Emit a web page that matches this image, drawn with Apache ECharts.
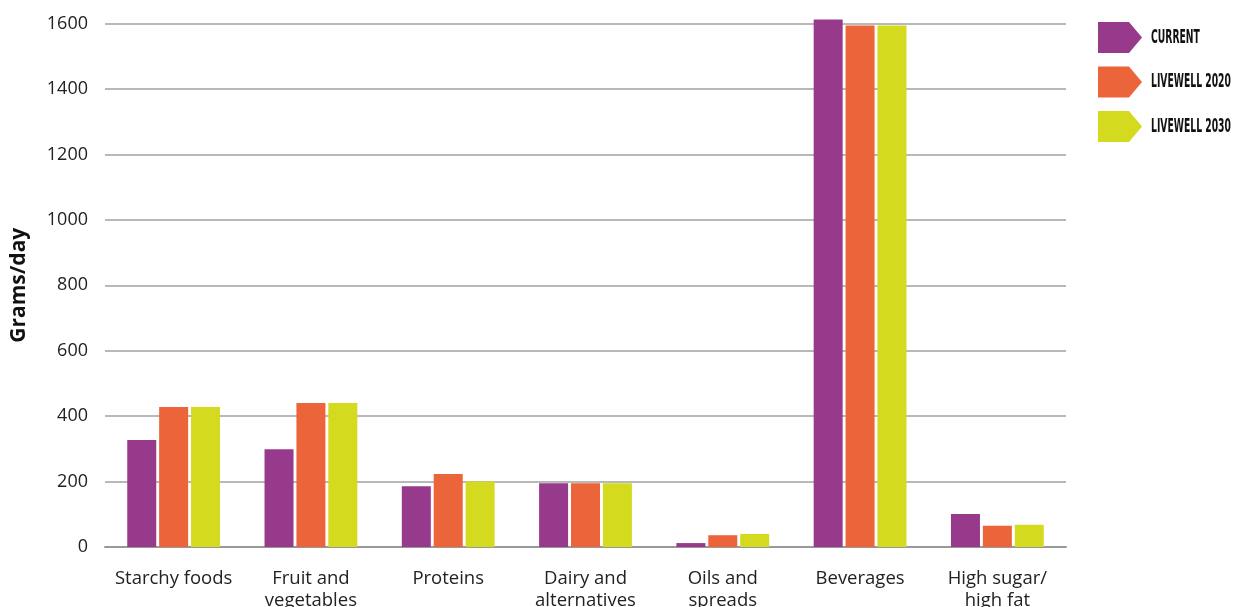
<!DOCTYPE html>
<html>
<head>
<meta charset="utf-8">
<script src="https://cdn.jsdelivr.net/npm/echarts@6/dist/echarts.min.js"></script>
<style>
  html, body { margin: 0; padding: 0; background: #fff; }
  #chart { width: 1234px; height: 607px; }
</style>
</head>
<body>
<div id="chart"></div>
<script>
// Daily intake by food group, grams per day
const categories = ['Starchy foods', 'Fruit and\nvegetables', 'Proteins', 'Dairy and\nalternatives', 'Oils and\nspreads', 'Beverages', 'High sugar/\nhigh fat'];
const seriesNames = ['CURRENT', 'LIVEWELL 2020', 'LIVEWELL 2030'];
const current      = [327, 299, 186, 195, 12, 1612, 101];
const livewell2020 = [428, 440, 223, 195, 36, 1594, 65];
const livewell2030 = [428, 440, 200, 195, 40, 1594, 68];
const yTicks = [0, 200, 400, 600, 800, 1000, 1200, 1400, 1600];
const colors = ['#973A8C', '#EC6439', '#D4DA1E'];

const chart = echarts.init(document.getElementById('chart'));
const values = [current, livewell2020, livewell2030];

// Legend: arrow-shaped tabs with condensed capital labels
const legendLeft = 1098, legendTop = 22, legendStep = 44.5;
const legendItems = [];
seriesNames.forEach((name, i) => {
  const y = legendTop + i * legendStep;
  legendItems.push({
    type: 'polygon',
    shape: { points: [[legendLeft, y], [legendLeft + 31, y], [legendLeft + 44, y + 15.5], [legendLeft + 31, y + 31], [legendLeft, y + 31]] },
    style: { fill: colors[i] }
  });
  legendItems.push({
    type: 'text',
    x: 1151,
    y: y + 16,
    scaleX: 0.54,
    style: {
      text: name,
      fill: '#111',
      font: 'bold 19px "DejaVu Sans Condensed", "DejaVu Sans"',
      verticalAlign: 'middle',
      align: 'left'
    }
  });
});

chart.setOption({
  animation: false,
  textStyle: { fontFamily: 'Open Sans' },
  grid: { left: 105, right: 168, top: 23.5, bottom: 60, outerBoundsMode: 'none', containLabel: false },
  graphic: legendItems,
  xAxis: {
    type: 'category',
    data: categories,
    axisLine: { show: true, lineStyle: { color: '#999', width: 2 } },
    axisTick: { show: false },
    axisLabel: {
      color: '#222',
      fontSize: 18.5,
      lineHeight: 22,
      margin: 21,
      interval: 0
    }
  },
  yAxis: {
    type: 'value',
    min: 0,
    max: 1600,
    interval: 200,
    name: 'Grams/day',
    nameLocation: 'middle',
    nameGap: 75,
    nameTextStyle: { fontSize: 21, fontWeight: 'bold', color: '#111' },
    axisLine: { show: false },
    axisTick: { show: false },
    splitLine: { lineStyle: { color: '#a0a0a0', width: 1.5 } },
    axisLabel: {
      color: '#222',
      fontSize: 18,
      margin: 17,
      formatter: v => (yTicks.includes(v) ? String(v) : '')
    }
  },
  series: seriesNames.map((name, i) => ({
    name,
    type: 'bar',
    data: values[i],
    barWidth: 29,
    barGap: '10%',
    clip: false,
    itemStyle: { color: colors[i] }
  }))
});
</script>
</body>
</html>
